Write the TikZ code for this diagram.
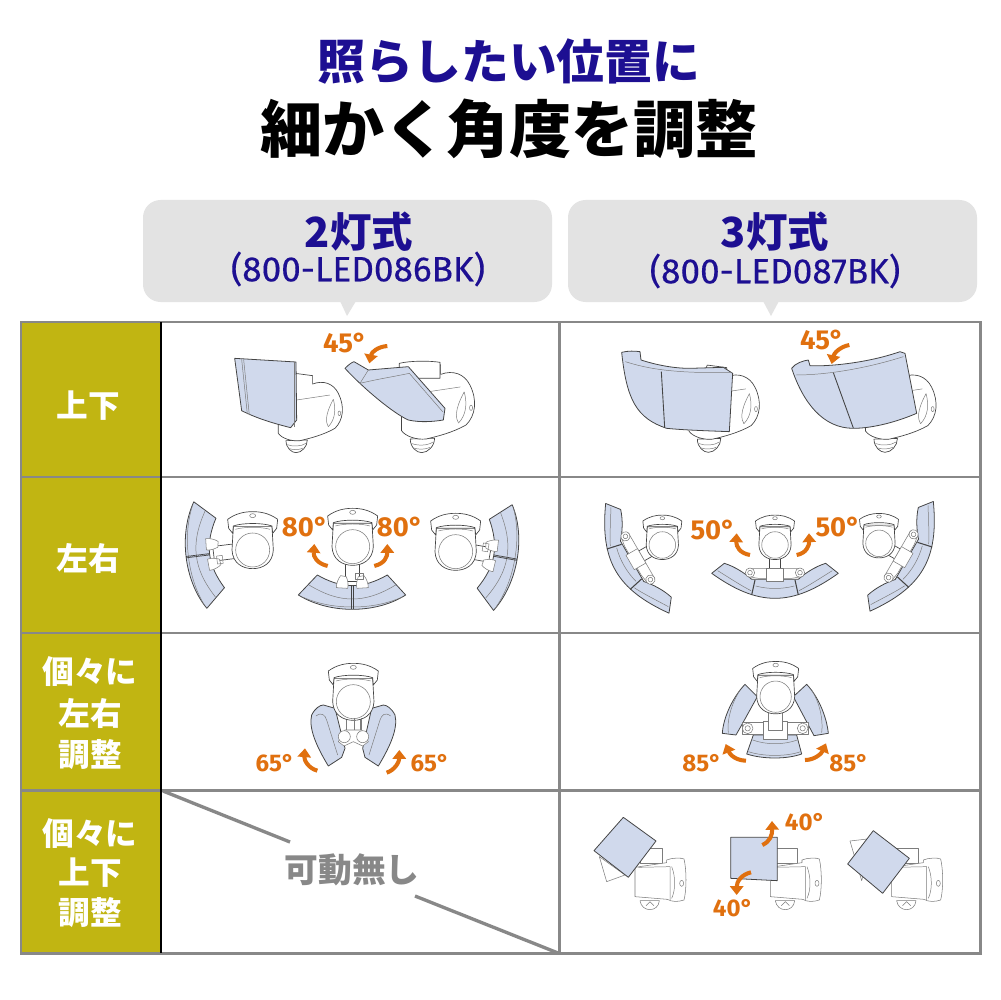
\documentclass[tikz,border=0pt]{standalone}
\usepackage{fontspec}
\usetikzlibrary{arrows.meta}
\newfontfamily\jp{Noto Sans CJK JP}
\newfontfamily\din{Fira Sans}
\newfontfamily\dinm[FakeBold=0.35]{Fira Sans}
\definecolor{navyt}{HTML}{1D0F92}
\definecolor{olivec}{HTML}{C1B512}
\definecolor{gridg}{HTML}{888888}
\definecolor{bubg}{HTML}{E3E3E3}
\definecolor{orangea}{HTML}{E0700F}
\definecolor{panelb}{HTML}{D0D9EC}
\definecolor{lampl}{HTML}{444444}
\tikzset{
  zz/.style 2 args={shift={(#1,#2)},x=0.02cm/3,y=-0.02cm/3},
  lamp/.style={draw=lampl,line width=0.38pt,fill=white,line join=round},
  lampsoft/.style={draw=lampl!70,line width=0.3pt,fill=white,line join=round},
  lampthin/.style={draw=lampl!70,line width=0.28pt,line join=round},
  panel/.style={draw=lampl,line width=0.45pt,fill=panelb,line join=round},
  turn/.style={draw=orangea,line width=2.3pt,-{Triangle[length=5pt,width=7.5pt]}},
  deg/.style={text=orangea,font=\din\bfseries\fontsize{15.6}{16}\selectfont,inner sep=0pt},
  degs/.style={text=orangea,font=\din\bfseries\fontsize{13.7}{14}\selectfont,inner sep=0pt},
  rowl/.style={text=white,font=\jp\bfseries\fontsize{18}{18}\selectfont,inner sep=0pt},
  gridl/.style={draw=gridg,line width=1.7pt},
  bubble/.style={fill=bubg,draw=none,rounded corners=10pt},
}
\newcommand\topbody{%
  \path[lamp] (-58,-70) -- (-62,0) .. controls (-60,40) and (-30,56) .. (0,56) .. controls (30,56) and (60,40) .. (62,0) -- (58,-70) -- cycle;
  \path[lamp] (-75,-92) .. controls (-50,-110) and (-25,-115) .. (0,-115) .. controls (25,-115) and (50,-110) .. (75,-92) -- (72,-65) -- (60,-50) -- (58,-72) .. controls (30,-82) and (-30,-82) .. (-58,-72) -- (-60,-50) -- (-72,-65) -- cycle;
  \draw[lampthin] (-52,-62) .. controls (-25,-70) and (25,-70) .. (52,-62);
  \draw[lampsoft] (0,0) circle (51);
  \draw[lampsoft] (0,-103) ellipse (9 and 6);
}
\newcommand\twohead{%
  \path[lamp] (-22,-100) -- (-22,-30) -- (22,-30) -- (22,-100) -- cycle;
  \path[panel] (-162,10) .. controls (-110,42) and (-50,53) .. (0,53) .. controls (50,53) and (110,42) .. (160,10) -- (105,-50) .. controls (70,-30) and (35,-18) .. (0,-18) .. controls (-35,-18) and (-70,-30) .. (-105,-50) -- cycle;
  \draw[lampthin] (-130,-20) .. controls (-80,10) and (-40,22) .. (0,22) .. controls (40,22) and (80,10) .. (130,-20);
  \draw[lampthin] (-150,16) .. controls (-100,38) and (-50,46) .. (0,46) .. controls (50,46) and (100,38) .. (150,16);
  \path[lampsoft] (-35,-48) -- (-18,-45) .. controls (-12,-30) and (-12,-18) .. (-14,-10) -- (-48,-12) .. controls (-48,-25) and (-42,-40) .. (-35,-48) -- cycle;
  \path[lampsoft] (35,-48) -- (18,-45) .. controls (12,-30) and (12,-18) .. (14,-10) -- (48,-12) .. controls (48,-25) and (42,-40) .. (35,-48) -- cycle;
  \draw[lampthin] (8,-55) rectangle (32,-38);
  \draw[draw=lampl,line width=0.4pt] (-2,-18) -- (-2,53) (2,-18) -- (2,53);
}
\newcommand\threehead{%
  \path[lamp] (-17,-100) -- (-17,-40) -- (17,-40) -- (17,-100) -- cycle;
  \path[panel] (-190,-30) .. controls (-120,20) and (-60,45) .. (0,45) .. controls (60,45) and (120,20) .. (190,-30) -- (152,-60) .. controls (120,-50) and (90,-30) .. (70,-12) -- (-70,-12) .. controls (-90,-30) and (-120,-50) .. (-152,-60) -- cycle;
  \draw[lampthin] (-172,-38) .. controls (-130,-12) and (-100,8) .. (-72,22);
  \draw[lampthin] (172,-38) .. controls (130,-12) and (100,8) .. (72,22);
  \draw[lampthin] (-58,8) .. controls (-20,18) and (20,18) .. (58,8);
  \draw[draw=lampl,line width=0.6pt] (-70,35) -- (-60,-10) (70,35) -- (60,-10);
  \path[lampsoft] (-80,-45) -- (80,-45) -- (80,-20) -- (50,-15) -- (-50,-15) -- (-80,-20) -- cycle;
  \path[lampsoft] (-25,-45) rectangle (25,-5);
  \draw[lampsoft] (-75,-32) circle (14);
  \draw[lampsoft] (-75,-32) circle (7);
  \draw[lampsoft] (75,-32) circle (14);
  \draw[lampsoft] (75,-32) circle (7);
}
\newcommand\sidebody{% origin: bottom of the socket
  \path[lamp] (-30,-36) .. controls (-30,-14) and (-13,0) .. (0,0) .. controls (17,0) and (34,-18) .. (34,-38) -- cycle;
  \draw[lampthin] (-26,-24) .. controls (-10,-18) and (15,-18) .. (30,-28);
  \draw[lampthin] (-20,-12) .. controls (-8,-8) and (10,-8) .. (22,-14);
  \path[lamp] (-3,-238) -- (50,-231) -- (50,-206) .. controls (82,-218) and (112,-208) .. (127,-178) .. controls (147,-138) and (142,-98) .. (117,-73) .. controls (82,-53) and (42,-43) .. (12,-36) .. controls (-13,-33) and (-43,-43) .. (-53,-58) -- (-53,-98) -- cycle;
  \draw[lampthin] (2,-158) -- (102,-173);
  \draw[lampthin] (112,-160) .. controls (85,-110) and (90,-90) .. (97,-78);
  \draw[lampthin] (112,-160) .. controls (120,-130) and (118,-100) .. (97,-78);
  \draw[lampthin] (130,-118) ellipse (4 and 7);
}
\newcommand\frontbody{% side lamp of the last row, coordinates of its first copy
  \path[lampsoft] (240,625) -- (306,625) -- (306,670) -- (240,670) -- cycle;
  \path[lampsoft] (240,782) .. controls (245,818) and (295,818) .. (298,782) -- cycle;
  \draw[lampthin] (258,797) -- (270,785) -- (282,797);
  \path[lampsoft] (225,682) -- (320,668) -- (320,660) .. controls (335,653) and (365,653) .. (372,657) .. controls (380,690) and (380,750) .. (372,780) .. controls (355,786) and (335,786) .. (322,778) -- (225,770) -- cycle;
  \draw[lampthin] (235,682) -- (330,680) -- (330,780);
  \draw[lampthin] (335,680) .. controls (347,710) and (347,750) .. (335,775);
  \draw[lampthin] (365,730) ellipse (6 and 9);
}
\begin{document}
\begin{tikzpicture}[x=0.02cm,y=-0.02cm]
\useasboundingbox (0,0) rectangle (1000,1000);
\fill[white] (0,0) rectangle (1000,1000);
% titles
\node[text=navyt,font=\jp\bfseries\fontsize{27.2}{28}\selectfont,inner sep=0pt] (t1) at (509,62) {照らしたい位置に};
\node[text=black,font=\jp\bfseries\fontsize{35.4}{36}\selectfont,inner sep=0pt] (t2) at (509,129) {細かく角度を調整};
% bubbles
\path[bubble] (143,200) rectangle (552,302);
\fill[bubg] (340,301) -- (356,301) -- (347,316) -- cycle;
\path[bubble] (568,200) rectangle (977,302);
\fill[bubg] (763,301) -- (779,301) -- (771,316) -- cycle;
\node[text=navyt,font=\jp\bfseries\fontsize{23.6}{24}\selectfont,inner sep=0pt] (h1) at (359,232) {2灯式};
\node[text=navyt,font=\dinm\fontsize{20}{20}\selectfont,inner sep=0pt] (s1) at (358,269) {(800-LED086BK)};
\node[text=navyt,font=\jp\bfseries\fontsize{23.6}{24}\selectfont,inner sep=0pt] (h2) at (775,232) {3灯式};
\node[text=navyt,font=\dinm\fontsize{20}{20}\selectfont,inner sep=0pt] (s2) at (775,271) {(800-LED087BK)};
% table
\fill[olivec] (21,322) rectangle (161,953);
\draw[gridl] (21,322) rectangle (980,953);
\draw[gridl] (21,477) -- (980,477) (21,633) -- (980,633) (21,790) -- (980,790);
\draw[gridl] (559,322) -- (559,953);
\draw[draw=black,line width=1.7pt] (161,322) -- (161,953);
\draw[gridl,line width=1.9pt] (163,791) -- (290,842);
\draw[gridl,line width=1.9pt] (415,896) -- (558,953);
\node[text=gridg,font=\jp\bfseries\fontsize{19.2}{20}\selectfont,inner sep=0pt] (none) at (352,870) {可動無し};
\node[rowl] (r1) at (88,406) {上下};
\node[rowl] (r2) at (88,558) {左右};
\node[rowl] (r3a) at (90,672) {個々に};
\node[rowl] (r3b) at (90,713) {左右};
\node[rowl] (r3c) at (90,755) {調整};
\node[rowl] (r4a) at (90,834) {個々に};
\node[rowl] (r4b) at (90,873) {上下};
\node[rowl] (r4c) at (90,913) {調整};
% cells: row 1 and 2, two-head model
\begin{scope}[zz={160}{320}]
  \begin{scope}[shift={(408,398)}]\sidebody\end{scope}
  \path[panel] (224,115) -- (408,126) -- (410,300) -- (392,323) .. controls (340,310) and (290,295) .. (245,272) -- cycle;
  \draw[lampthin] (245,118) -- (262,282) (251,119) -- (268,285);
  \draw[lampthin] (402,127) -- (402,322);
  \begin{scope}[shift={(785,398)},scale=1.14]\sidebody\end{scope}
  \path[lamp] (718,130) .. controls (750,122) and (810,122) .. (840,127) -- (840,175) -- (718,175) -- cycle;
  \path[panel] (555,145) .. controls (565,135) and (575,127) .. (582,125) -- (625,150) -- (745,140) -- (855,265) -- (850,300) .. controls (820,305) and (780,308) .. (745,300) .. controls (700,280) and (610,205) .. (555,145) -- cycle;
  \draw[lampthin] (600,190) .. controls (650,178) and (700,170) .. (748,160) -- (848,275);
  \draw[lampthin] (625,150) -- (600,190);
  \draw[turn] (682,78) .. controls (655,80) and (635,95) .. (628,130);
  \begin{scope}[shift={(131,705)},rotate=-83]\twohead\end{scope}
  \begin{scope}[shift={(278,690)}]\topbody\end{scope}
  \begin{scope}[shift={(577,815)}]\twohead\end{scope}
  \begin{scope}[shift={(578,680)}]\topbody\end{scope}
  \begin{scope}[shift={(1019,710)},rotate=80]\twohead\end{scope}
  \begin{scope}[shift={(887,695)}]\topbody\end{scope}
  \draw[turn] (503,738) .. controls (470,730) and (460,710) .. (463,672);
  \draw[turn] (643,738) .. controls (675,730) and (682,710) .. (682,672);
\end{scope}
% cells: row 1 and 2, three-head model
\begin{scope}[zz={560}{320}]
  \begin{scope}[shift={(445,397)},scale=1.1]\sidebody\end{scope}
  \path[panel] (185,97) .. controls (205,92) and (225,93) .. (240,95) -- (243,120) .. controls (290,135) and (340,145) .. (390,145) -- (490,142) -- (518,160) -- (508,335) .. controls (430,332) and (370,330) .. (320,325) .. controls (230,295) and (200,240) .. (185,97) -- cycle;
  \draw[lampthin] (196,125) .. controls (260,145) and (330,160) .. (515,158);
  \draw[draw=lampl,line width=0.5pt] (304,155) -- (314,322);
  \begin{scope}[shift={(975,397)},scale=1.1]\sidebody\end{scope}
  \path[panel] (695,145) .. controls (705,130) and (730,122) .. (745,120) -- (750,137) .. controls (800,140) and (920,130) .. (1020,95) -- (1035,100) -- (1070,280) .. controls (1000,310) and (930,325) .. (880,325) .. controls (790,325) and (730,250) .. (695,145) -- cycle;
  \draw[lampthin] (708,165) .. controls (800,165) and (920,145) .. (1030,110);
  \draw[draw=lampl,line width=0.5pt] (820,158) -- (880,324);
  \draw[turn] (868,75) .. controls (840,80) and (822,100) .. (815,132);
  \begin{scope}[shift={(206,730)},rotate=-60]\threehead\end{scope}
  \begin{scope}[shift={(307,675)},scale=0.78]\topbody\end{scope}
  \begin{scope}[shift={(645,790)}]\threehead\end{scope}
  \begin{scope}[shift={(645,675)},scale=0.78]\topbody\end{scope}
  \begin{scope}[shift={(1051,724)},rotate=60]\threehead\end{scope}
  \begin{scope}[shift={(957,670)},scale=0.78]\topbody\end{scope}
  \draw[turn] (570,705) .. controls (540,700) and (528,680) .. (530,640);
  \draw[turn] (710,705) .. controls (740,700) and (748,675) .. (747,640);
\end{scope}
% row 3, two-head
\begin{scope}[zz={160}{640}]
  \path[lampsoft] (558,230) -- (558,275) -- (600,275) -- (600,230) -- cycle;
  \path[panel] (455,225) .. controls (465,205) and (480,195) .. (490,195) -- (525,205) -- (555,325) -- (545,352) -- (505,378) .. controls (470,320) and (445,265) .. (455,225) -- cycle;
  \draw[lampthin] (468,228) .. controls (485,215) and (495,225) .. (500,240) -- (533,345);
  \path[panel] (705,225) .. controls (695,205) and (680,195) .. (670,195) -- (635,205) -- (608,325) -- (615,352) -- (655,378) .. controls (690,320) and (715,265) .. (705,225) -- cycle;
  \draw[lampthin] (692,228) .. controls (675,215) and (665,225) .. (660,240) -- (627,345);
  \path[lampsoft] (555,270) -- (605,270) -- (625,305) -- (608,318) -- (580,305) -- (552,318) -- (535,305) -- cycle;
  \draw[lampsoft] (553,290) circle (18);
  \draw[lampsoft] (608,290) circle (18);
  \begin{scope}[shift={(580,185)}]\topbody\end{scope}
  \draw[lampthin] (582,235) -- (582,270) (605,235) -- (605,270);
  \draw[turn] (472,392) .. controls (445,385) and (432,360) .. (435,325);
  \draw[turn] (680,398) .. controls (705,390) and (718,365) .. (718,330);
\end{scope}
% row 3 and 4, three-head
\begin{scope}[zz={560}{640}]
  \path[panel] (555,133) -- (592,170) -- (545,255) -- (528,285) -- (487,280) .. controls (490,230) and (520,170) .. (555,133) -- cycle;
  \draw[lampthin] (540,150) .. controls (515,190) and (500,240) .. (505,278);
  \path[panel] (740,133) -- (700,170) -- (745,255) -- (762,287) -- (805,280) .. controls (800,230) and (775,170) .. (740,133) -- cycle;
  \draw[lampthin] (755,150) .. controls (780,190) and (790,240) .. (785,278);
  \path[panel] (580,285) -- (710,285) -- (725,342) .. controls (680,358) and (610,358) .. (560,342) -- cycle;
  \draw[lampthin] (565,335) .. controls (610,350) and (680,350) .. (722,335);
  \draw[lampthin] (578,300) .. controls (620,315) and (670,315) .. (712,300);
  \path[lampsoft] (548,248) -- (745,248) -- (745,283) -- (548,283) -- cycle;
  \path[lampsoft] (610,245) rectangle (682,298);
  \draw[lampsoft] (563,265) circle (16);
  \draw[lampsoft] (563,265) circle (8);
  \draw[lampsoft] (728,265) circle (16);
  \draw[lampsoft] (728,265) circle (8);
  \path[lampsoft] (625,200) rectangle (668,272);
  \begin{scope}[shift={(647,170)},scale=0.92]\topbody\end{scope}
  \draw[turn] (558,362) .. controls (530,362) and (510,345) .. (497,312);
  \draw[turn] (735,360) .. controls (765,360) and (785,340) .. (798,310);
  % fourth row lamps
  \begin{scope}\frontbody\end{scope}
  \path[lampsoft] (118,650) -- (140,725) -- (195,705) -- cycle;
  \path[panel] (190,532) -- (288,603) -- (205,712) -- (102,632) -- cycle;
  \begin{scope}[shift={(406,0)}]\frontbody\end{scope}
  \path[panel] (512,592) -- (652,592) -- (652,722) -- (512,715) -- cycle;
  \begin{scope}[shift={(770,0)}]\frontbody\end{scope}
  \path[lampsoft] (870,603) -- (940,595) -- (905,722) -- cycle;
  \path[panel] (940,572) -- (1048,655) -- (968,760) -- (863,672) -- cycle;
  \draw[turn] (607,615) .. controls (630,605) and (637,585) .. (636,543);
  \draw[turn] (573,697) .. controls (545,703) and (530,725) .. (530,765);
\end{scope}
% angle labels
\node[deg] (a1) at (345,343) {45°};
\node[deg] (a2) at (305,527) {80°};
\node[deg] (a3) at (400,527) {80°};
\node[deg] (a4) at (822,340) {45°};
\node[deg] (a5) at (713,530) {50°};
\node[deg] (a6) at (838,527) {50°};
\node[degs] (a7) at (275,763) {65°};
\node[degs] (a8) at (430,763) {65°};
\node[degs] (a9) at (702,763) {85°};
\node[degs] (a10) at (849,763) {85°};
\node[degs] (a11) at (805,822) {40°};
\node[degs] (a12) at (733,908) {40°};
\end{tikzpicture}
\end{document}
